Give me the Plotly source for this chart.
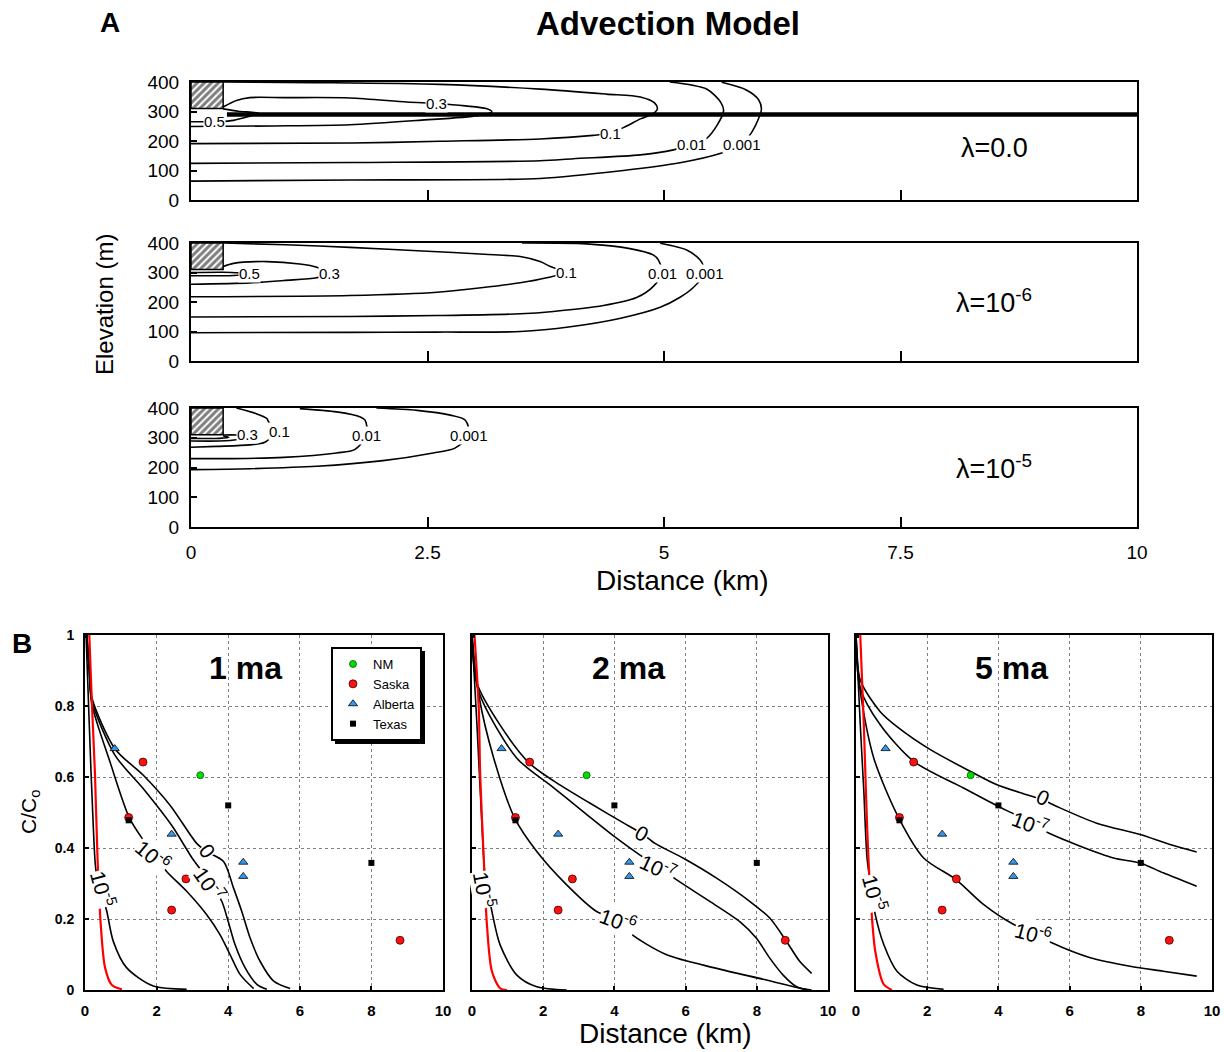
import plotly.graph_objects as go

W, H = 1224, 1052
FONT = "Liberation Sans, Arial, sans-serif"

# ---------------- Panel A: advection model contours (distance km, elevation m) ----------------
# lambda = 0.0
a1_c05_x = [0.34, 0.5, 0.72, 0.6, 0.45, 0.3, 0.0]
a1_c05_y = [309, 301, 294, 282, 270, 266, 265]
a1_c03_x = [0.34, 0.48, 0.62, 1.0, 1.68, 2.28, 2.6, 2.9, 3.12, 3.18, 3.03, 2.41, 1.68, 0.87, 0.0]
a1_c03_y = [315, 337, 347, 347, 346, 332, 327, 319, 310, 299, 286, 270, 255, 251, 249]
a1_c01_x = [0.34, 1.3, 2.63, 3.69, 4.39, 4.75, 4.9, 4.93, 4.88, 4.75, 4.6, 4.43, 4.25, 3.69, 2.63, 1.7, 0.0]
a1_c01_y = [400, 398, 392, 376, 359, 349, 329, 309, 292, 275, 250, 226, 219, 207, 199, 193, 191]
a1_c001_x = [5.06, 5.45, 5.6, 5.63, 5.56, 5.45, 5.29, 5.1, 4.75, 4.04, 3.69, 1.7, 0.0]
a1_c001_y = [400, 376, 331, 303, 253, 209, 187, 170, 153, 140, 133, 127, 124]
a1_c0001_x = [5.61, 5.87, 6.0, 6.03, 6.0, 5.93, 5.82, 5.61, 5.17, 4.57, 3.69, 1.7, 0.0]
a1_c0001_y = [399, 373, 340, 309, 276, 231, 187, 159, 126, 100, 73, 68, 64]
a1_band_x = [0.38, 10.0]
a1_band_y = [290, 290]

# lambda = 1e-6
a2_c05_x = [0.0, 0.34, 0.5, 0.6, 0.45, 0.3, 0.0]
a2_c05_y = [300, 301, 299, 295, 290, 289, 289]
a2_c03_x = [0.34, 0.45, 0.8, 1.15, 1.33, 1.45, 1.33, 0.98, 0.62, 0.0]
a2_c03_y = [320, 331, 337, 329, 318, 298, 282, 273, 265, 260]
a2_c01_x = [0.34, 1.0, 1.68, 2.5, 3.1, 3.48, 3.69, 3.8, 3.95, 3.76, 3.48, 2.6, 1.68, 0.0]
a2_c01_y = [400, 394, 385, 372, 362, 354, 337, 320, 300, 282, 265, 233, 222, 218]
a2_c001_x = [3.5, 4.18, 4.64, 4.89, 4.94, 4.98, 4.89, 4.71, 4.36, 3.83, 3.48, 2.6, 1.68, 0.0]
a2_c001_y = [400, 397, 381, 359, 343, 298, 254, 215, 188, 168, 160, 154, 151, 149]
a2_c0001_x = [4.96, 5.24, 5.38, 5.42, 5.43, 5.31, 5.17, 4.96, 4.53, 4.01, 3.48, 2.6, 1.68, 0.0]
a2_c0001_y = [399, 376, 343, 320, 298, 249, 216, 182, 144, 116, 100, 98, 97, 96]

# lambda = 1e-5
a3_c05_x = [0.0, 0.3, 0.4, 0.34]
a3_c05_y = [298, 298, 302, 306]
a3_c03_x = [0.34, 0.48, 0.58, 0.48, 0.3, 0.0]
a3_c03_y = [309, 309, 303, 293, 289, 289]
a3_c01_x = [0.48, 0.69, 0.8, 0.82, 0.9, 0.78, 0.62, 0.27, 0.0]
a3_c01_y = [400, 381, 365, 354, 320, 285, 276, 271, 268]
a3_c001_x = [1.15, 1.54, 1.79, 1.84, 1.86, 1.73, 1.54, 0.98, 0.45, 0.0]
a3_c001_y = [398, 387, 370, 359, 309, 260, 249, 234, 230, 230]
a3_c0001_x = [1.96, 2.39, 2.74, 2.9, 2.94, 2.79, 2.56, 2.03, 1.33, 0.62, 0.0]
a3_c0001_y = [400, 392, 376, 359, 309, 265, 249, 223, 204, 196, 193]

# hatched source block (km, m)
src_x = [0.0, 0.34, 0.34, 0.0, 0.0]
src_y = [310, 310, 400, 400, 310]

# contour label text and positions per panel
a_label_text = ["0.5", "0.3", "0.1", "0.01", "0.001"]
a1_label_x = [0.25, 2.6, 4.43, 5.29, 5.82]
a1_label_y = [265, 327, 226, 187, 187]
a2_label_x = [0.62, 1.46, 3.97, 4.98, 5.43]
a2_label_y = [295, 298, 300, 298, 298]
a3_label_x = [None, 0.6, 0.94, 1.86, 2.94]
a3_label_y = [None, 312, 322, 309, 309]

lambda_text = ["λ=0.0", "λ=10<sup>-6</sup>", "λ=10<sup>-5</sup>"]

# ---------------- Panel B: C/Co vs distance ----------------
b_titles = ["1 ma", "2 ma", "5 ma"]

# 1 ma
b1_red_x = [0.12, 0.2, 0.28, 0.35, 0.44, 0.56, 0.75, 1.03]
b1_red_y = [1.0, 0.79, 0.605, 0.371, 0.184, 0.063, 0.014, 0.002]
b1_l0_x = [0.05, 0.12, 0.19, 0.84, 1.63, 2.38, 3.12, 3.4, 3.87, 4.15, 4.38, 4.61, 4.89, 5.27, 5.73]
b1_l0_y = [1.0, 0.9, 0.824, 0.679, 0.605, 0.52, 0.413, 0.39, 0.362, 0.287, 0.221, 0.147, 0.081, 0.025, 0.004]
b1_l7_x = [0.05, 0.12, 0.19, 0.84, 1.63, 2.42, 3.03, 3.45, 3.82, 4.0, 4.19, 4.47, 4.8, 5.08]
b1_l7_y = [1.0, 0.9, 0.815, 0.661, 0.567, 0.464, 0.366, 0.31, 0.25, 0.193, 0.128, 0.063, 0.016, 0.002]
b1_l6_x = [0.05, 0.12, 0.19, 0.7, 1.24, 1.63, 1.9, 2.28, 2.84, 3.4, 3.77, 4.05, 4.33, 4.71]
b1_l6_y = [1.0, 0.9, 0.806, 0.642, 0.485, 0.422, 0.385, 0.334, 0.278, 0.212, 0.156, 0.1, 0.044, 0.004]
b1_l5_x = [0.03, 0.12, 0.23, 0.31, 0.45, 0.61, 0.79, 1.16, 1.91, 2.84]
b1_l5_y = [1.0, 0.745, 0.464, 0.334, 0.28, 0.221, 0.137, 0.063, 0.011, 0.002]

# 2 ma
b2_red_x = [0.07, 0.19, 0.23, 0.33, 0.42, 0.56, 0.79, 0.98]
b2_red_y = [1.0, 0.793, 0.606, 0.371, 0.183, 0.052, 0.005, 0.0]
b2_l0_x = [0.0, 0.14, 0.79, 1.6, 2.48, 3.32, 4.35, 4.77, 5.14, 5.94, 6.87, 7.81, 8.37, 8.84, 9.21, 9.54]
b2_l0_y = [1.0, 0.864, 0.746, 0.64, 0.577, 0.526, 0.465, 0.441, 0.413, 0.371, 0.315, 0.249, 0.202, 0.136, 0.08, 0.047]
b2_l7_x = [0.0, 0.19, 1.26, 2.2, 3.13, 4.07, 4.72, 5.23, 5.75, 6.69, 7.53, 7.99, 8.37, 8.74, 9.12, 9.44]
b2_l7_y = [1.0, 0.84, 0.653, 0.577, 0.502, 0.427, 0.38, 0.347, 0.31, 0.249, 0.192, 0.146, 0.089, 0.042, 0.009, 0.0]
b2_l6_x = [0.0, 0.19, 0.61, 1.2, 1.82, 2.66, 3.5, 4.11, 4.44, 5.47, 6.87, 8.27, 9.21, 9.54]
b2_l6_y = [1.0, 0.831, 0.653, 0.484, 0.39, 0.296, 0.221, 0.197, 0.16, 0.099, 0.061, 0.028, 0.005, 0.0]
b2_l5_x = [0.0, 0.14, 0.28, 0.36, 0.45, 0.56, 0.79, 1.26, 1.82, 2.66]
b2_l5_y = [1.0, 0.746, 0.465, 0.329, 0.28, 0.221, 0.127, 0.042, 0.009, 0.0]

# 5 ma
b3_red_x = [0.12, 0.22, 0.31, 0.4, 0.54, 0.78, 1.01]
b3_red_y = [1.0, 0.747, 0.466, 0.278, 0.11, 0.016, 0.0]
b3_l0_x = [0.0, 0.12, 0.68, 1.15, 2.09, 3.21, 3.96, 4.8, 5.26, 5.64, 6.76, 7.98, 8.82, 9.57]
b3_l0_y = [1.0, 0.873, 0.784, 0.742, 0.677, 0.616, 0.578, 0.55, 0.535, 0.517, 0.47, 0.438, 0.41, 0.389]
b3_l7_x = [0.0, 0.12, 0.68, 1.62, 3.02, 4.0, 4.47, 4.89, 5.41, 6.3, 7.23, 8.0, 8.63, 9.57]
b3_l7_y = [1.0, 0.85, 0.747, 0.644, 0.569, 0.517, 0.494, 0.47, 0.442, 0.405, 0.372, 0.357, 0.33, 0.292]
b3_l6_x = [0.0, 0.12, 0.5, 1.2, 1.9, 2.81, 3.58, 4.42, 4.98, 5.5, 6.58, 7.7, 8.63, 9.57]
b3_l6_y = [1.0, 0.841, 0.653, 0.485, 0.372, 0.311, 0.241, 0.185, 0.161, 0.133, 0.091, 0.067, 0.053, 0.039]
b3_l5_x = [0.0, 0.12, 0.22, 0.31, 0.42, 0.54, 0.78, 1.15, 1.71, 2.46]
b3_l5_y = [1.0, 0.747, 0.56, 0.372, 0.29, 0.213, 0.128, 0.053, 0.014, 0.002]

# curve labels (text, x, y, angle) for each B panel
b_curve_text = ["0", "10<sup>-7</sup>", "10<sup>-6</sup>", "10<sup>-5</sup>"]
b1_lab_x = [3.42, 3.5, 1.9, 0.51]
b1_lab_y = [0.39, 0.3, 0.38, 0.285]
b1_lab_ang = [55, 55, 40, 75]
b2_lab_x = [4.77, 5.23, 4.11, 0.37]
b2_lab_y = [0.441, 0.347, 0.197, 0.283]
b2_lab_ang = [30, 25, 20, 80]
b3_lab_x = [5.26, 4.89, 4.98, 0.54]
b3_lab_y = [0.541, 0.47, 0.161, 0.274]
b3_lab_ang = [25, 20, 15, 75]

# field observations (distance km, C/Co)
nm_x = [3.22]
nm_y = [0.605]
saska_x = [1.62, 1.22, 2.82, 2.42, 8.8]
saska_y = [0.642, 0.486, 0.313, 0.225, 0.14]
alberta_x = [0.83, 2.42, 4.42, 4.42]
alberta_y = [0.68, 0.439, 0.36, 0.32]
texas_x = [0.0, 4.0, 1.22, 8.0]
texas_y = [1.0, 0.52, 0.478, 0.358]

# ---------------- figure ----------------
fig = go.Figure()


def xdom(l, r):
    return [l / W, r / W]


def ydom(t, b):
    return [1 - b / H, 1 - t / H]


def add_curve(x, y, ax, color="black", width=1.6, smooth=0.8):
    fig.add_trace(go.Scatter(
        x=x, y=y, mode="lines", xaxis="x" + ax, yaxis="y" + ax,
        line=dict(color=color, width=width, shape="spline", smoothing=smooth),
        showlegend=False, hoverinfo="skip"))


def add_label(text, x, y, ax, size, angle=0):
    fig.add_annotation(text=text, x=x, y=y, xref="x" + ax, yref="y" + ax,
                       showarrow=False, textangle=angle, bgcolor="white",
                       borderpad=0, font=dict(size=size, family=FONT, color="black"))


# Panel A subplots
a_panels = [
    ("", [a1_c05_x, a1_c03_x, a1_c01_x, a1_c001_x, a1_c0001_x],
     [a1_c05_y, a1_c03_y, a1_c01_y, a1_c001_y, a1_c0001_y], a1_label_x, a1_label_y),
    ("2", [a2_c05_x, a2_c03_x, a2_c01_x, a2_c001_x, a2_c0001_x],
     [a2_c05_y, a2_c03_y, a2_c01_y, a2_c001_y, a2_c0001_y], a2_label_x, a2_label_y),
    ("3", [a3_c05_x, a3_c03_x, a3_c01_x, a3_c001_x, a3_c0001_x],
     [a3_c05_y, a3_c03_y, a3_c01_y, a3_c001_y, a3_c0001_y], a3_label_x, a3_label_y),
]
for ax, xs, ys, lx, ly in a_panels:
    for cx, cy in zip(xs, ys):
        add_curve(cx, cy, ax)
    fig.add_trace(go.Scatter(
        x=src_x, y=src_y, mode="lines", fill="toself", xaxis="x" + ax, yaxis="y" + ax,
        line=dict(color="black", width=1.5), fillcolor="white",
        fillpattern=dict(shape="/", fgcolor="black", bgcolor="white", size=5, solidity=0.6),
        showlegend=False, hoverinfo="skip"))
    for t, x, y in zip(a_label_text, lx, ly):
        if x is not None:
            add_label(t, x, y, ax, 15)

add_curve(a1_band_x, a1_band_y, "", width=4.5)

# Panel B subplots
b_sets = [
    ("4", [b1_l0_x, b1_l7_x, b1_l6_x, b1_l5_x], [b1_l0_y, b1_l7_y, b1_l6_y, b1_l5_y],
     b1_red_x, b1_red_y, b1_lab_x, b1_lab_y, b1_lab_ang),
    ("5", [b2_l0_x, b2_l7_x, b2_l6_x, b2_l5_x], [b2_l0_y, b2_l7_y, b2_l6_y, b2_l5_y],
     b2_red_x, b2_red_y, b2_lab_x, b2_lab_y, b2_lab_ang),
    ("6", [b3_l0_x, b3_l7_x, b3_l6_x, b3_l5_x], [b3_l0_y, b3_l7_y, b3_l6_y, b3_l5_y],
     b3_red_x, b3_red_y, b3_lab_x, b3_lab_y, b3_lab_ang),
]
for i, (ax, xs, ys, rx, ry, lx, ly, la) in enumerate(b_sets):
    for cx, cy in zip(xs, ys):
        add_curve(cx, cy, ax)
    add_curve(rx, ry, ax, color="#ff0000", width=2.2)
    for t, x, y, a in zip(b_curve_text, lx, ly, la):
        add_label(t, x, y, ax, 21, a)
    first = i == 0
    fig.add_trace(go.Scatter(
        x=nm_x, y=nm_y, mode="markers", name="NM", xaxis="x" + ax, yaxis="y" + ax,
        marker=dict(symbol="circle", size=7, color="#00e000", line=dict(color="#105010", width=0.8)),
        showlegend=first, legendgroup="nm", hoverinfo="skip"))
    fig.add_trace(go.Scatter(
        x=saska_x, y=saska_y, mode="markers", name="Saska", xaxis="x" + ax, yaxis="y" + ax,
        marker=dict(symbol="circle", size=8, color="#ff1010", line=dict(color="#400000", width=0.8)),
        showlegend=first, legendgroup="sk", hoverinfo="skip"))
    fig.add_trace(go.Scatter(
        x=alberta_x, y=alberta_y, mode="markers", name="Alberta", xaxis="x" + ax, yaxis="y" + ax,
        marker=dict(symbol="triangle-up", size=8, color="#3399ee", line=dict(color="black", width=0.8)),
        showlegend=first, legendgroup="ab", hoverinfo="skip"))
    fig.add_trace(go.Scatter(
        x=texas_x, y=texas_y, mode="markers", name="Texas", xaxis="x" + ax, yaxis="y" + ax,
        marker=dict(symbol="square", size=6, color="black"),
        showlegend=first, legendgroup="tx", hoverinfo="skip"))

# ---------------- axes ----------------
a_top = [82, 243, 408]
a_bot = [200, 361, 527]
layout_axes = {}
for k, ax in enumerate(["", "2", "3"]):
    last = k == 2
    layout_axes["xaxis" + ax] = dict(
        domain=xdom(191, 1137), range=[0, 10], anchor="y" + ax, automargin=False,
        showline=True, mirror=True, linecolor="black", linewidth=2,
        ticks="inside", ticklen=10, tickwidth=2, tickcolor="black",
        tickvals=[0, 2.5, 5, 7.5, 10], ticktext=["0", "2.5", "5", "7.5", "10"],
        showticklabels=last, ticklabelstandoff=7,
        tickfont=dict(size=19, family=FONT, color="black"),
        showgrid=False, zeroline=False)
    layout_axes["yaxis" + ax] = dict(
        domain=ydom(a_top[k], a_bot[k]), range=[0, 400], anchor="x" + ax, automargin=False,
        showline=True, mirror=True, linecolor="black", linewidth=2,
        ticks="inside", ticklen=6, tickwidth=2, tickcolor="black",
        tickvals=[0, 100, 200, 300, 400], ticklabelstandoff=6,
        tickfont=dict(size=19, family=FONT, color="black"),
        showgrid=False, zeroline=False)

b_left = [85, 472, 856]
b_right = [443, 828, 1212]
for k, ax in enumerate(["4", "5", "6"]):
    layout_axes["xaxis" + ax] = dict(
        domain=xdom(b_left[k], b_right[k]), range=[0, 10], anchor="y" + ax, automargin=False,
        showline=True, mirror=True, linecolor="black", linewidth=2,
        ticks="inside", ticklen=4, tickwidth=1.5, tickcolor="black",
        tickvals=[0, 2, 4, 6, 8, 10], ticklabelstandoff=6,
        tickfont=dict(size=15, family=FONT, color="black", weight="bold"),
        showgrid=True, gridcolor="#808080", griddash="dot", gridwidth=1, zeroline=False)
    layout_axes["yaxis" + ax] = dict(
        domain=ydom(635, 990), range=[0, 1], anchor="x" + ax, automargin=False,
        showline=True, mirror=True, linecolor="black", linewidth=2,
        ticks="inside", ticklen=4, tickwidth=1.5, tickcolor="black",
        tickvals=[0, 0.2, 0.4, 0.6, 0.8, 1], ticktext=["0", "0.2", "0.4", "0.6", "0.8", "1"],
        showticklabels=(k == 0), ticklabelstandoff=6,
        tickfont=dict(size=14, family=FONT, color="black", weight="bold"),
        showgrid=True, gridcolor="#808080", griddash="dot", gridwidth=1, zeroline=False)

fig.update_layout(
    width=W, height=H, margin=dict(l=0, r=0, t=0, b=0, pad=0, autoexpand=False),
    paper_bgcolor="white", plot_bgcolor="white",
    font=dict(family=FONT, color="black"),
    showlegend=True,
    legend=dict(x=331 / W, y=1 - 647 / H, xanchor="left", yanchor="top",
                bgcolor="white", bordercolor="black", borderwidth=2,
                font=dict(size=13, family=FONT, color="black"),
                itemwidth=30, tracegroupgap=0),
    **layout_axes)

# legend drop shadow
fig.add_shape(type="rect", xref="paper", yref="paper", layer="above",
              x0=335 / W, x1=425 / W, y0=1 - 744 / H, y1=1 - 651 / H,
              fillcolor="black", line=dict(width=0))


def paper_text(text, x, y, size, bold=False, angle=0):
    fig.add_annotation(text=text, x=x / W, y=1 - y / H, xref="paper", yref="paper",
                       showarrow=False, textangle=angle, xanchor="center", yanchor="middle",
                       font=dict(size=size, family=FONT, color="black",
                                 weight="bold" if bold else "normal"))


paper_text("A", 110, 22, 28, bold=True)
paper_text("Advection Model", 668, 23, 33, bold=True)
paper_text("Elevation (m)", 105, 305, 24, angle=-90)
paper_text("Distance (km)", 682, 580, 28)
for t, yy in zip(lambda_text, [148, 301, 467]):
    paper_text(t, 994, yy, 27)
paper_text("B", 22, 643, 28, bold=True)
for t, xx in zip(b_titles, [245, 629, 1012]):
    paper_text(t, xx, 668, 32, bold=True)
paper_text("C/C<sub>o</sub>", 30, 812, 21, angle=-90)
paper_text("Distance (km)", 665, 1033, 28)

fig.write_html("out.html")
